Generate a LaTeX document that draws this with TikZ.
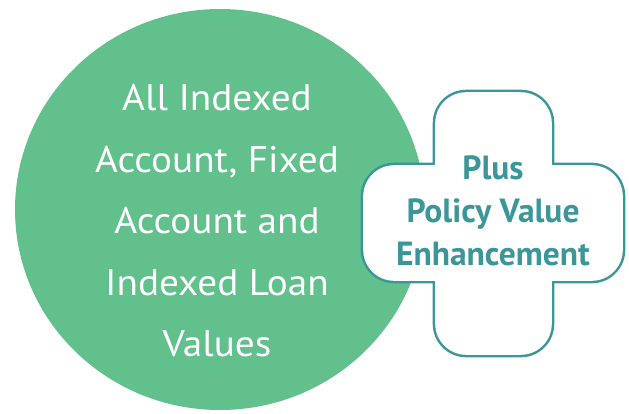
\documentclass[tikz,border=0pt]{standalone}
\usepackage{fontspec}
\setmainfont{PT Sans}
\newfontfamily\circfont[FakeStretch=1.06]{PT Sans}
\newfontfamily\plusfont{PT Sans}
\usetikzlibrary{shapes.geometric}
\definecolor{leafgreen}{RGB}{98,192,140}
\definecolor{plusteal}{RGB}{58,150,153}
\tikzset{
  bigtext/.style={text=white, align=center, font=\circfont\fontsize{37}{61.5}\selectfont},
  plustext/.style={text=plusteal, align=center, font=\plusfont\bfseries\fontsize{33.5}{43}\selectfont},
  barout/.style={draw=plusteal, line width=5pt, rounded corners=31pt},
  barin/.style={fill=white, rounded corners=31pt},
}
\begin{document}
\begin{tikzpicture}[x=1pt,y=-1pt]
\useasboundingbox (0,0) rectangle (629,413);
\node[ellipse, fill=leafgreen, minimum width=410pt, minimum height=401pt, inner sep=0pt] (circ) at (220,209.5) {};
\node[bigtext] (circtext) at (217,221) {All Indexed\\Account, Fixed\\Account and\\Indexed Loan\\Values};
% plus shape
\coordinate (va) at (435.2,92.2);
\coordinate (vb) at (551.8,354.8);
\coordinate (ha) at (363.2,165.2);
\coordinate (hb) at (622.8,280.8);
\path[barout] (va) rectangle (vb);
\path[barout] (ha) rectangle (hb);
\path[barin] (va) rectangle (vb);
\path[barin] (ha) rectangle (hb);
\node[plustext] (plus) at (493,211) {Plus\\Policy Value\\Enhancement};
\end{tikzpicture}
\end{document}
